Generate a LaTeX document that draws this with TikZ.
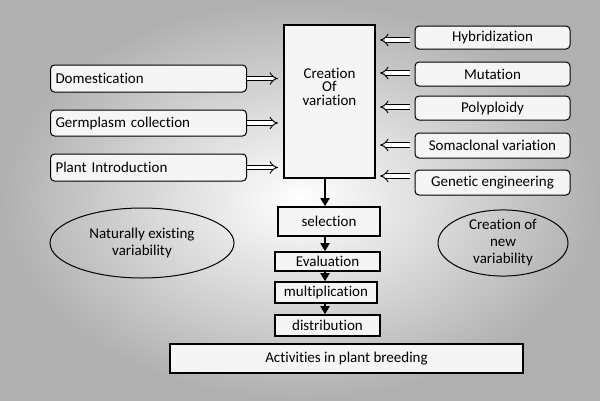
\documentclass[tikz,border=0pt]{standalone}
\usepackage{fontspec}
\setmainfont{Carlito}[Ligatures=NoCommon]
\usetikzlibrary{arrows.meta,shapes.geometric}
\begin{document}
\begin{tikzpicture}[x=1pt,y=-1pt,
 rbox/.style={draw,line width=1pt,rounded corners=4pt,fill=gray!8,font=\fontsize{15}{17}\selectfont,inner sep=0pt},
 sbox/.style={draw,line width=1.6pt,fill=gray!8,font=\fontsize{15}{17}\selectfont,inner sep=0pt},
 dar/.style={double,double distance=3.5pt,line width=0.9pt,-{Implies[length=5pt]}},
 dn/.style={line width=1.8pt,-{Triangle[length=8pt,width=9pt]}},
 ell/.style={draw,ellipse,line width=1pt,font=\fontsize{15}{17}\selectfont,align=center,inner sep=0pt}]
\useasboundingbox (0,0) rectangle (600,400);
\shade[inner color=white,outer color=gray!62] (0,0) rectangle (600,400);
\node[sbox,minimum width=91pt,minimum height=153pt,align=center] (cv) at (329.5,101.5) {\raisebox{30pt}{\shortstack{Creation\\Of\\variation}}};
\node[rbox,minimum width=196pt,minimum height=27pt,anchor=west,text width=186pt,align=left] (d) at (50,78.5) {Domestication};
\node[rbox,minimum width=196pt,minimum height=26pt,anchor=west,text width=186pt,align=left] (g) at (50,123) {Germplasm collection};
\node[rbox,minimum width=196pt,minimum height=27pt,anchor=west,text width=186pt,align=left] (p) at (50,167.5) {Plant Introduction};
\foreach \n/\y/\h/\t in {hy/37.5/23/Hybridization, mu/74/24/Mutation, po/108/24/Polyploidy, so/145.5/25/Somaclonal variation, ge/182.5/25/Genetic engineering}
  \node[rbox,minimum width=155pt,minimum height=\h pt] (\n) at (492.5,\y) {\t};
\foreach \n/\y in {d/79,g/124,p/167}
  \draw[dar] (\n.east) coordinate (a\n) -- ++(31,0) coordinate (b\n);
\foreach \n/\y in {hy/40,mu/73,po/107,so/145,ge/176}
  {\coordinate (s\n) at (410,\y); \coordinate (e\n) at (380,\y); \draw[dar] (s\n) -- (e\n);}
\node[sbox,minimum width=102pt,minimum height=29pt] (se) at (329,221.5) {selection};
\node[sbox,minimum width=105pt,minimum height=19pt] (ev) at (327.5,261.5) {Evaluation};
\node[sbox,minimum width=102pt,minimum height=21pt] (mp) at (326,292.5) {multiplication};
\node[sbox,minimum width=105pt,minimum height=21pt] (di) at (327.5,325.5) {distribution};
\draw[dn] (cv.south -| 325,0) -- (se.north -| 325,0);
\draw[dn] (se.south -| 325,0) -- (ev.north -| 325,0);
\draw[dn] (ev.south -| 325,0) -- (mp.north -| 325,0);
\draw[dn] (mp.south -| 325,0) -- (di.north -| 325,0);
\node[ell,minimum width=184pt,minimum height=70pt] (nv) at (142,243) {Naturally existing\\variability};
\node[ell,minimum width=130pt,minimum height=66pt] (nw) at (503,243) {Creation of\\new\\variability};
\node[sbox,line width=1.2pt,minimum width=353pt,minimum height=29pt] (ac) at (346.5,358.5) {Activities in plant breeding};
\end{tikzpicture}
\end{document}
